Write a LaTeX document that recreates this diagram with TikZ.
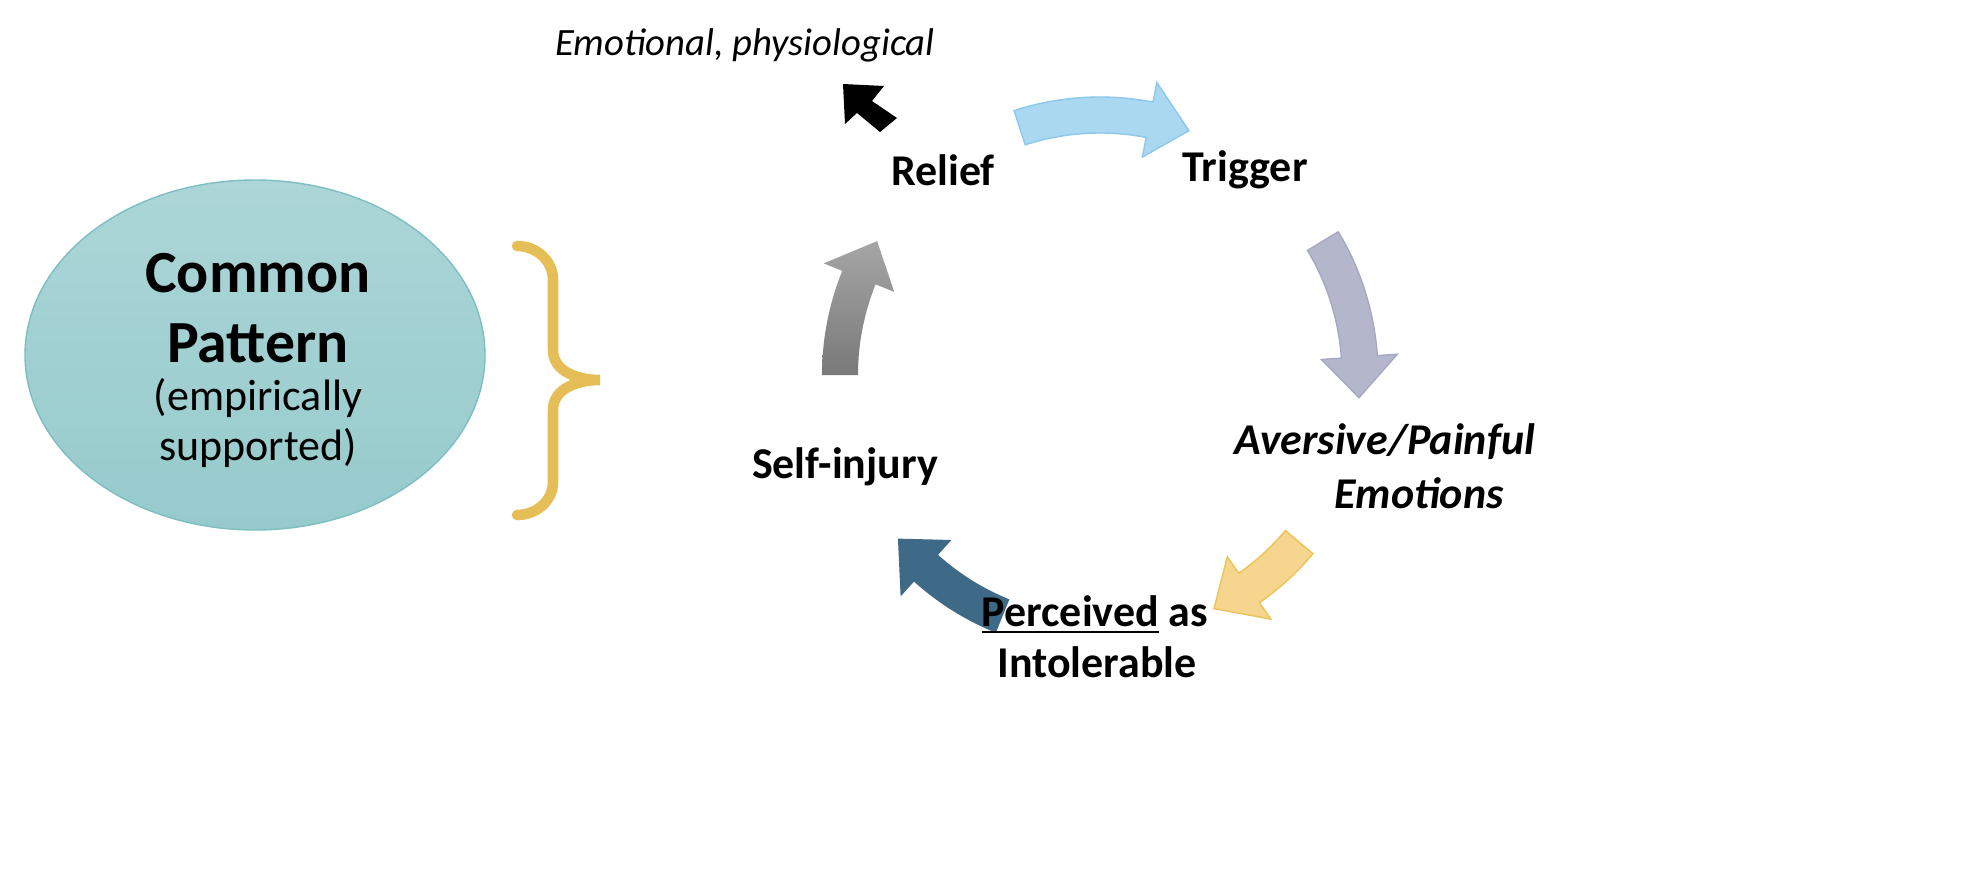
\documentclass[tikz,border=0pt]{standalone}
\usepackage{fontspec}
\setmainfont{Carlito}
\begin{document}
\begin{tikzpicture}[x=0.01cm,y=-0.01cm,
  lbl/.style={font=\fontsize{12.5}{14}\selectfont\bfseries, inner sep=0pt},
  ilbl/.style={font=\fontsize{12.5}{14}\selectfont\bfseries\itshape, inner sep=0pt}]
\useasboundingbox (0,0) rectangle (1969,873);
\newcommand\cycarrow[3]{% style, start, end (flipped angles, clockwise)
  \path[#1,shift={(1100,375)}] (#2:242) arc[start angle=#2,end angle=#3-9,radius=242]
   -- (#3-9:222) -- (#3:260) -- (#3-9:298) -- (#3-9:278)
   arc[start angle=#3-9,end angle=#2,radius=278] -- cycle;}
\cycarrow{fill={rgb,255:red,169;green,216;blue,240},draw={rgb,255:red,140;green,200;blue,235}}{-108}{-70}
\cycarrow{fill={rgb,255:red,180;green,182;blue,204},draw={rgb,255:red,165;green,168;blue,195}}{-31}{5}
\cycarrow{fill={rgb,255:red,246;green,213;blue,142},draw={rgb,255:red,235;green,195;blue,90}}{40}{64}
\cycarrow{fill={rgb,255:red,62;green,106;blue,135}}{112}{141}
\cycarrow{top color=gray!70,bottom color=gray!95!black}{180}{211}
\fill[black] (843,84) -- (884,86) -- (872,101) -- (897,118) -- (880,132) -- (857,113) -- (845,124) -- cycle;
\path[top color={rgb,255:red,172;green,214;blue,216},bottom color={rgb,255:red,150;green,202;blue,204},draw={rgb,255:red,125;green,190;blue,194}] (255,355) ellipse[x radius=230,y radius=175];
\node[font=\fontsize{17}{20}\selectfont\bfseries,align=center] (cp) at (258,308) {Common\\Pattern};
\node[font=\fontsize{12.5}{14}\selectfont,align=center] (es) at (258,423) {(empirically\\supported)};
\draw[line width=3pt,color={rgb,255:red,230;green,190;blue,88},line cap=round]
  (517,246) to[out=0,in=90] (553,280) -- (553,350) to[out=-90,in=180] (600,380)
  to[out=180,in=90] (553,410) -- (553,482) to[out=-90,in=0] (517,515);
\node[font=\fontsize{11}{13}\selectfont\itshape] (top) at (745,45) {Emotional, physiological};
\node[lbl] (relief) at (943,170) {Relief};
\node[lbl] (trig) at (1245,170) {Trigger};
\node[ilbl] (av) at (1385,442) {Aversive/Painful};
\node[ilbl] (em) at (1419,493) {Emotions};
\node[lbl] (pa) at (1095,615) {\underline{Perceived} as};
\node[lbl] (in) at (1097,662) {Intolerable};
\node[lbl] (si) at (845,467) {Self-injury};
\end{tikzpicture}
\end{document}
